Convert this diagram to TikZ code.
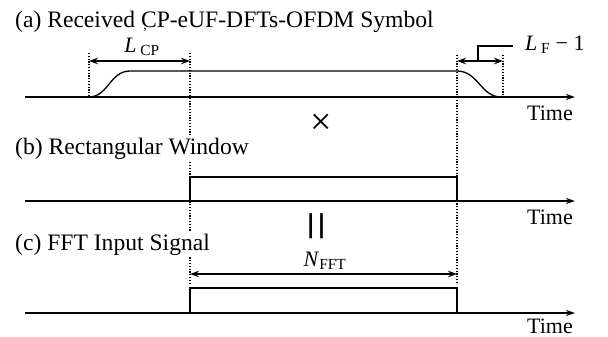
\documentclass[tikz,border=0pt]{standalone}
\usepackage{amsmath}
\usepackage{graphicx}
\usepackage{fontspec}
\setmainfont{Liberation Serif}
\usetikzlibrary{arrows.meta}
\begin{document}
\begin{tikzpicture}[x=1pt,y=-1pt,
  lbl/.style={font=\fontsize{22}{24}\selectfont, inner sep=1pt},
  ttl/.style={font=\fontsize{23.6}{26}\selectfont, inner sep=1pt},
  wlbl/.style={ttl, fill=white, inner sep=2pt},
  axisline/.style={line width=1.6pt, -{Stealth[length=9pt,width=6pt]}},
  sig/.style={line width=1.3pt},
  dotline/.style={line width=1.2pt, dash pattern=on 1.2pt off 1.6pt},
  dimarrow/.style={line width=1.3pt, {Stealth[length=9pt,width=6.5pt]}-{Stealth[length=9pt,width=6.5pt]}}
]
\useasboundingbox (0,0) rectangle (608,337);
% coordinates
\coordinate (a0) at (25,97);   \coordinate (a1) at (575,97);
\coordinate (b0) at (25,201);  \coordinate (b1) at (575,201);
\coordinate (c0) at (25,313);  \coordinate (c1) at (575,313);
\coordinate (s0) at (89,97);   \coordinate (s1) at (130,71);
\coordinate (s2) at (457,71);  \coordinate (s3) at (501,97);
\coordinate (d1t) at (89,53);  \coordinate (d1b) at (89,97);
\coordinate (d2t) at (190,53); \coordinate (d2b) at (190,285);
\coordinate (d3t) at (457,55); \coordinate (d3b) at (457,283);
\coordinate (d4t) at (503,55); \coordinate (d4b) at (503,97);
\coordinate (cpl) at (89,61);  \coordinate (cpr) at (190,61);
\coordinate (lfl) at (457,61); \coordinate (lfr) at (503,61);
\coordinate (ld0) at (478,61); \coordinate (ld1) at (478,46); \coordinate (ld2) at (513,46);
\coordinate (nl) at (190,274); \coordinate (nr) at (457,274);
\coordinate (rb0) at (190,201); \coordinate (rb1) at (190,177); \coordinate (rb2) at (457,177); \coordinate (rb3) at (457,201);
\coordinate (rc0) at (190,313); \coordinate (rc1) at (190,288); \coordinate (rc2) at (457,288); \coordinate (rc3) at (457,313);

% dotted guide lines (behind labels)
\draw[dotline] (d1t) -- (d1b);
\draw[dotline] (d2t) -- (d2b);
\draw[dotline] (d3t) -- (d3b);
\draw[dotline] (d4t) -- (d4b);

% labels
\node[ttl, anchor=base west] (ta) at (14,28) {(a) Received CP-eUF-DFTs-OFDM Symbol};
\node[wlbl, anchor=base west] (tb) at (13,154) {(b) Rectangular Window};
\node[wlbl, anchor=base west] (tc) at (13,250) {(c) FFT Input Signal};
\node[font=\fontsize{14}{14}\selectfont, inner sep=0pt] (comma) at (145,30) {,};

% axes
\draw[axisline] (a0) -- (a1);
\draw[axisline] (b0) -- (b1);
\draw[axisline] (c0) -- (c1);
\node[lbl, anchor=base east] (timea) at (574,120) {Time};
\node[lbl, anchor=base east] (timeb) at (574,224) {Time};
\node[lbl, anchor=base east] (timec) at (574,333) {Time};

% signal (a)
\draw[sig] (s0) .. controls (108,97) and (110,71) .. (s1) -- (s2)
  .. controls (478,71) and (481,97) .. (s3);
\draw[dimarrow] (cpl) -- (cpr);
\node[lbl] (lcp) at (142,47) {\textit{L}\,$_{\text{CP}}$};
\draw[dimarrow] (lfl) -- (lfr);
\draw[sig] (ld0) -- (ld1) -- (ld2);
\node[lbl, anchor=west] (lf) at (524,45) {\textit{L}\,$_{\text{F}}$ − 1};

% operators
\node[font=\fontsize{38}{38}\selectfont, inner sep=0pt] (times) at (321,124) {×};
\node[font=\fontsize{36}{36}\selectfont, inner sep=0pt, rotate=90] (eq) at (322,226) {\scalebox{1.5}[1.5]{=}};

% (b) window
\draw[sig] (rb0) -- (rb1) -- (rb2) -- (rb3);

% (c) FFT input
\draw[dimarrow] (nl) -- (nr);
\node[lbl] (nfft) at (325,261) {\textit{N}$_{\text{FFT}}$};
\draw[sig] (rc0) -- (rc1) -- (rc2) -- (rc3);
\end{tikzpicture}
\end{document}
